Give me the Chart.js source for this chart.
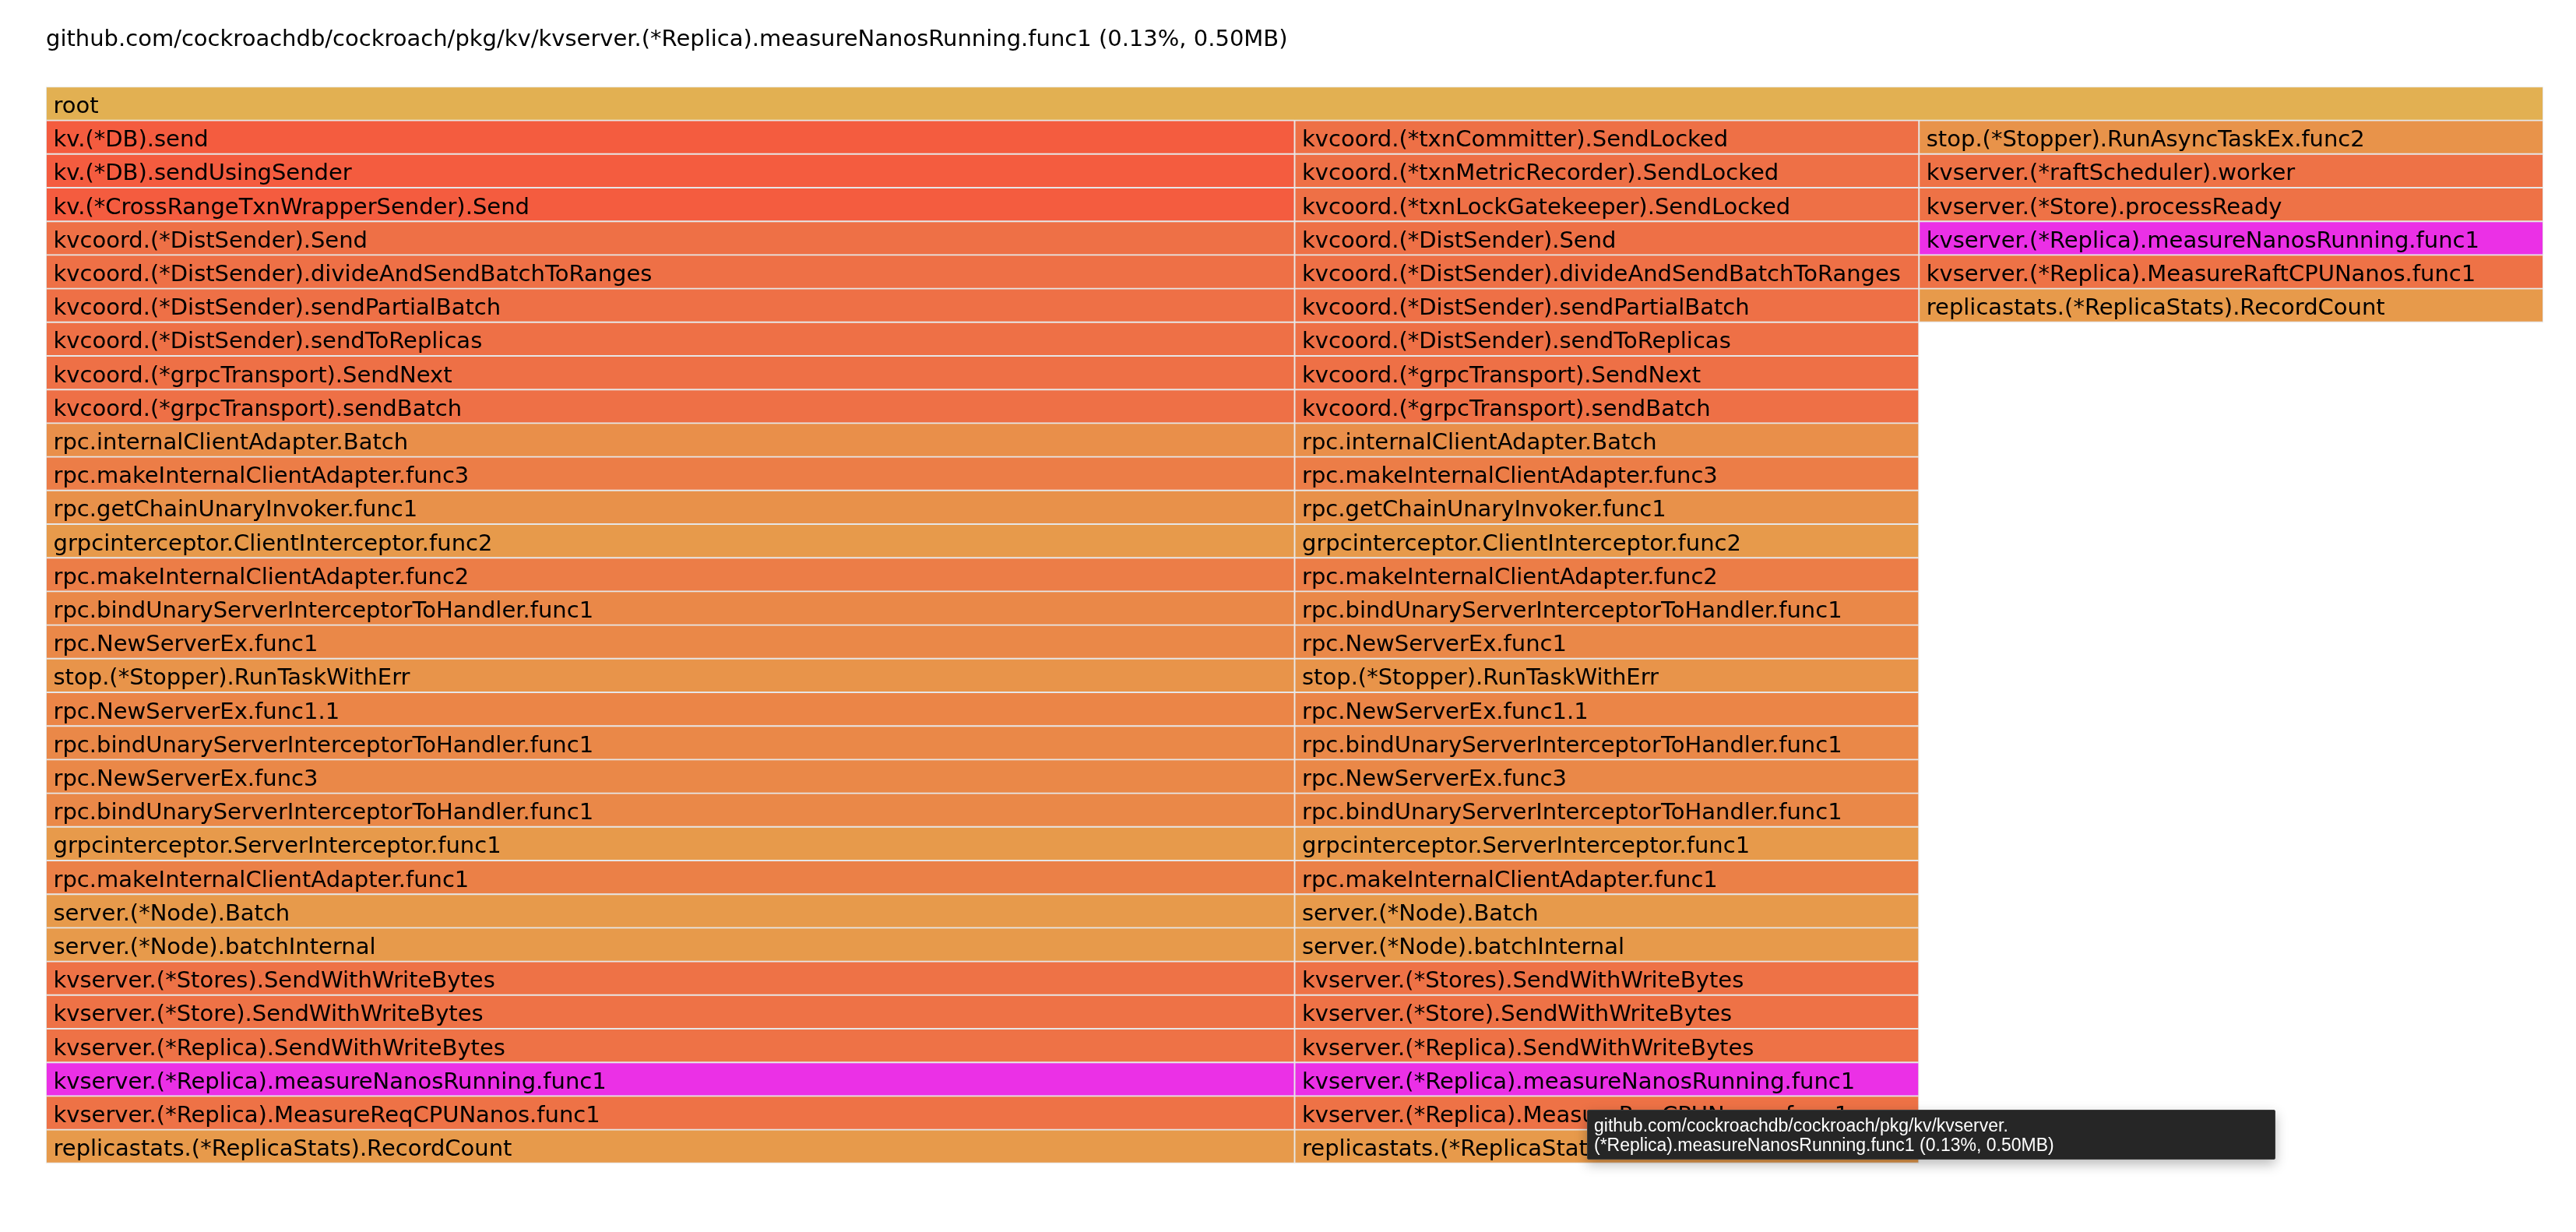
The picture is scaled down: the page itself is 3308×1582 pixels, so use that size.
<!DOCTYPE html>
<html>
<head>
<meta charset="utf-8">
<script src="https://cdn.jsdelivr.net/npm/chart.js@4.4.1/dist/chart.umd.min.js"></script>
<style>
  html, body { margin: 0; padding: 0; background: #ffffff; }
  #wrap { position: relative; width: 3308px; height: 1582px; }
  #tip {
    position: absolute; left: 2038px; top: 1425px; width: 884px; height: 64px;
    box-sizing: border-box; background: #262626; border: 1px solid #3c3c3c;
    color: #ffffff; font-family: "Liberation Sans", Arial, sans-serif; font-size: 23px;
    line-height: 25px; padding: 7px 8px 0 8px; white-space: nowrap; overflow: hidden;
    box-shadow: 0 6px 16px rgba(0,0,0,0.28); border-radius: 2px;
  }
</style>
</head>
<body>
<div id="wrap">
  <canvas id="c" width="3308" height="1582"></canvas>
  <div id="tip"></div>
</div>
<script>
// ---- data ----
const chartTitle = "github.com/cockroachdb/cockroach/pkg/kv/kvserver.(*Replica).measureNanosRunning.func1 (0.13%, 0.50MB)";
const rootName = "root";
const stackLeft = [
  "kv.(*DB).send",
  "kv.(*DB).sendUsingSender",
  "kv.(*CrossRangeTxnWrapperSender).Send",
  "kvcoord.(*DistSender).Send",
  "kvcoord.(*DistSender).divideAndSendBatchToRanges",
  "kvcoord.(*DistSender).sendPartialBatch",
  "kvcoord.(*DistSender).sendToReplicas",
  "kvcoord.(*grpcTransport).SendNext",
  "kvcoord.(*grpcTransport).sendBatch",
  "rpc.internalClientAdapter.Batch",
  "rpc.makeInternalClientAdapter.func3",
  "rpc.getChainUnaryInvoker.func1",
  "grpcinterceptor.ClientInterceptor.func2",
  "rpc.makeInternalClientAdapter.func2",
  "rpc.bindUnaryServerInterceptorToHandler.func1",
  "rpc.NewServerEx.func1",
  "stop.(*Stopper).RunTaskWithErr",
  "rpc.NewServerEx.func1.1",
  "rpc.bindUnaryServerInterceptorToHandler.func1",
  "rpc.NewServerEx.func3",
  "rpc.bindUnaryServerInterceptorToHandler.func1",
  "grpcinterceptor.ServerInterceptor.func1",
  "rpc.makeInternalClientAdapter.func1",
  "server.(*Node).Batch",
  "server.(*Node).batchInternal",
  "kvserver.(*Stores).SendWithWriteBytes",
  "kvserver.(*Store).SendWithWriteBytes",
  "kvserver.(*Replica).SendWithWriteBytes",
  "kvserver.(*Replica).measureNanosRunning.func1",
  "kvserver.(*Replica).MeasureReqCPUNanos.func1",
  "replicastats.(*ReplicaStats).RecordCount"
];
const stackMiddle = [
  "kvcoord.(*txnCommitter).SendLocked",
  "kvcoord.(*txnMetricRecorder).SendLocked",
  "kvcoord.(*txnLockGatekeeper).SendLocked",
  "kvcoord.(*DistSender).Send",
  "kvcoord.(*DistSender).divideAndSendBatchToRanges",
  "kvcoord.(*DistSender).sendPartialBatch",
  "kvcoord.(*DistSender).sendToReplicas",
  "kvcoord.(*grpcTransport).SendNext",
  "kvcoord.(*grpcTransport).sendBatch",
  "rpc.internalClientAdapter.Batch",
  "rpc.makeInternalClientAdapter.func3",
  "rpc.getChainUnaryInvoker.func1",
  "grpcinterceptor.ClientInterceptor.func2",
  "rpc.makeInternalClientAdapter.func2",
  "rpc.bindUnaryServerInterceptorToHandler.func1",
  "rpc.NewServerEx.func1",
  "stop.(*Stopper).RunTaskWithErr",
  "rpc.NewServerEx.func1.1",
  "rpc.bindUnaryServerInterceptorToHandler.func1",
  "rpc.NewServerEx.func3",
  "rpc.bindUnaryServerInterceptorToHandler.func1",
  "grpcinterceptor.ServerInterceptor.func1",
  "rpc.makeInternalClientAdapter.func1",
  "server.(*Node).Batch",
  "server.(*Node).batchInternal",
  "kvserver.(*Stores).SendWithWriteBytes",
  "kvserver.(*Store).SendWithWriteBytes",
  "kvserver.(*Replica).SendWithWriteBytes",
  "kvserver.(*Replica).measureNanosRunning.func1",
  "kvserver.(*Replica).MeasureReqCPUNanos.func1",
  "replicastats.(*ReplicaStats).RecordCount"
];
const stackRight = [
  "stop.(*Stopper).RunAsyncTaskEx.func2",
  "kvserver.(*raftScheduler).worker",
  "kvserver.(*Store).processReady",
  "kvserver.(*Replica).measureNanosRunning.func1",
  "kvserver.(*Replica).MeasureRaftCPUNanos.func1",
  "replicastats.(*ReplicaStats).RecordCount"
];
const stacks = [stackLeft, stackMiddle, stackRight];
const stackValuesMB = [0.25, 0.125, 0.125];
const tooltipLines = [
  "github.com/cockroachdb/cockroach/pkg/kv/kvserver.",
  "(*Replica).measureNanosRunning.func1 (0.13%, 0.50MB)"
];

// ---- styles ----
const focusName = "kvserver.(*Replica).measureNanosRunning.func1";
const colorByName = {
  "root": "#e2b052",
  "rpc.internalClientAdapter.Batch": "#e98f4a",
  "rpc.makeInternalClientAdapter.func3": "#ec7d47",
  "rpc.makeInternalClientAdapter.func2": "#ec7d47",
  "rpc.makeInternalClientAdapter.func1": "#eb8047",
  "rpc.getChainUnaryInvoker.func1": "#e8914a",
  "rpc.bindUnaryServerInterceptorToHandler.func1": "#ea8848",
  "rpc.NewServerEx.func1": "#ea8848",
  "rpc.NewServerEx.func1.1": "#eb8547",
  "rpc.NewServerEx.func3": "#ea8848",
  "stop.(*Stopper).RunTaskWithErr": "#e8944a",
  "stop.(*Stopper).RunAsyncTaskEx.func2": "#e8934a"
};
const colorByPkg = {
  "kv": "#f45c3f",
  "kvcoord": "#ee7046",
  "kvserver": "#ee7246",
  "grpcinterceptor": "#e79a4b",
  "server": "#e79a4b",
  "replicastats": "#e79a4b",
  "rpc": "#ea8848",
  "stop": "#e8934a"
};
function colorFor(name) {
  if (name === focusName) return "#eb30e6";
  if (colorByName[name]) return colorByName[name];
  const pkg = name.split(".")[0];
  return colorByPkg[pkg] || "#ee7046";
}

// ---- build chart data ----
const depth = 1 + Math.max(...stacks.map(s => s.length));
const rowLabels = Array.from({length: depth}, (_, i) => String(i));
const totalMB = stackValuesMB.reduce((a, b) => a + b, 0);

const datasets = [];
const rootData = rowLabels.map((_, i) => i === 0 ? [0, totalMB] : null);
const rootNames = rowLabels.map((_, i) => i === 0 ? rootName : null);
datasets.push({ data: rootData, names: rootNames });
let start = 0;
stacks.forEach((s, k) => {
  const end = start + stackValuesMB[k];
  const data = rowLabels.map((_, i) => (i >= 1 && i <= s.length) ? [start, end] : null);
  const names = rowLabels.map((_, i) => (i >= 1 && i <= s.length) ? s[i - 1] : null);
  datasets.push({ data, names });
  start = end;
});
datasets.forEach(ds => {
  Object.assign(ds, {
    grouped: false,
    barPercentage: 1,
    categoryPercentage: 1,
    borderWidth: 1.3,
    borderColor: "#e6e6e6",
    borderSkipped: false,
    backgroundColor: ctx => colorFor(ctx.dataset.names[ctx.dataIndex] || "")
  });
});

const FONT = "'DejaVu Sans', Verdana, sans-serif";
const frameLabels = {
  id: "frameLabels",
  afterDatasetsDraw(chart) {
    const ctx = chart.ctx;
    ctx.save();
    ctx.font = "29px " + FONT;
    ctx.fillStyle = "#000000";
    ctx.textAlign = "left";
    ctx.textBaseline = "alphabetic";
    chart.data.datasets.forEach((ds, di) => {
      const meta = chart.getDatasetMeta(di);
      meta.data.forEach((el, i) => {
        const name = ds.names[i];
        if (!name) return;
        const p = el.getProps(["x", "y", "base", "height"], true);
        const left = Math.min(p.x, p.base), right = Math.max(p.x, p.base);
        ctx.save();
        ctx.beginPath();
        ctx.rect(left, p.y - p.height / 2, right - left - 2, p.height);
        ctx.clip();
        ctx.fillText(name, left + 9.5, p.y + 12);
        ctx.restore();
      });
    });
    ctx.restore();
  }
};

new Chart(document.getElementById("c"), {
  type: "bar",
  data: { labels: rowLabels, datasets },
  plugins: [frameLabels],
  options: {
    indexAxis: "y",
    responsive: false,
    animation: false,
    devicePixelRatio: 1,
    layout: { padding: { left: 59, right: 42, top: 0, bottom: 88.2 } },
    scales: {
      x: { type: "linear", min: 0, max: totalMB, display: false, offset: false },
      y: { type: "category", display: false, offset: true }
    },
    plugins: {
      legend: { display: false },
      tooltip: { enabled: false },
      title: {
        display: true,
        text: chartTitle,
        align: "start",
        color: "#000000",
        font: { family: FONT, size: 29, weight: "normal", lineHeight: 1.2 },
        padding: { top: 34.4, bottom: 42.2 }
      }
    }
  }
});

const tip = document.getElementById("tip");
tooltipLines.forEach(line => {
  const d = document.createElement("div");
  d.textContent = line;
  tip.appendChild(d);
});
</script>
</body>
</html>
